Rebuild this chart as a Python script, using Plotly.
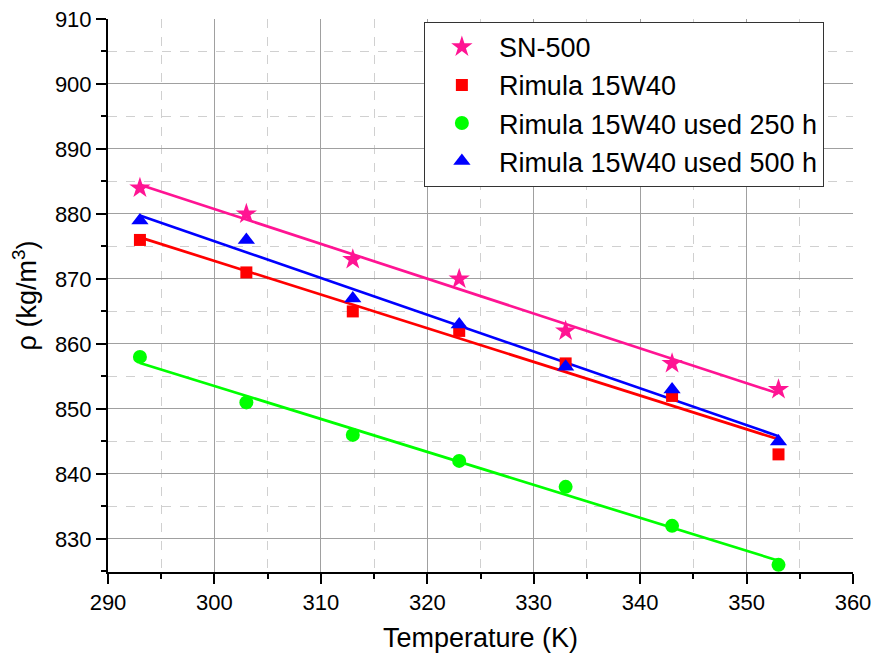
import numpy as np
import plotly.graph_objects as go

temperature = [293, 303, 313, 323, 333, 343, 353]
sn500 = [884, 880, 873, 870, 862, 857, 853]
rimula = [876, 871, 865, 862, 857, 852, 843]
used250 = [858, 851, 846, 842, 838, 832, 826]
used500 = [879, 876, 867, 863, 856.5, 853, 845]

series = [
    ("SN-500", sn500, "star", "#FF1493", 16),
    ("Rimula 15W40", rimula, "square", "#FF0000", 12),
    ("Rimula 15W40 used 250 h", used250, "circle", "#00FF00", 14),
    ("Rimula 15W40 used 500 h", used500, "triangle-up", "#0000FF", 15),
]

fig = go.Figure()
t = np.array(temperature, dtype=float)
for name, vals, sym, col, sz in series:
    k, b = np.polyfit(t, np.array(vals, dtype=float), 1)
    xs = [t.min(), t.max()]
    fig.add_trace(go.Scatter(x=xs, y=[k * x + b for x in xs], mode="lines",
                             line=dict(color=col, width=2.7), showlegend=False,
                             hoverinfo="skip"))
for name, vals, sym, col, sz in series:
    fig.add_trace(go.Scatter(x=temperature, y=vals, mode="markers", name=name,
                             marker=dict(symbol=sym, color=col, size=sz)))

axis_common = dict(
    showline=True, linecolor="black", linewidth=2,
    ticks="outside", ticklen=10, tickwidth=2, tickcolor="black",
    showgrid=True, gridcolor="#a0a0a0", gridwidth=1,
    zeroline=False, mirror=False, automargin=False,
    tickfont=dict(family="Liberation Sans, Arial", size=22, color="black"),
)
minor_common = dict(dtick=5, ticks="outside", ticklen=5, tickwidth=2, tickcolor="black",
                    showgrid=True, gridcolor="#d0d0d0", griddash="dash", gridwidth=1)
fig.update_layout(
    width=876, height=658,
    margin=dict(l=108, r=23, t=19, b=86),
    paper_bgcolor="white", plot_bgcolor="white",
    font=dict(family="Liberation Sans, Arial", color="black"),
    xaxis=dict(range=[290, 360], dtick=10, tick0=290,
               title=dict(text="Temperature (K)", font=dict(size=27), standoff=14),
               minor=minor_common, **axis_common),
    yaxis=dict(range=[824.9, 910], dtick=10, tick0=830,
               title=dict(text="ρ (kg/m<sup>3</sup>)", font=dict(size=27), standoff=10),
               minor=minor_common, **axis_common),
    legend=dict(x=0.424, y=0.995, xanchor="left", yanchor="top",
                bgcolor="white", bordercolor="#333333", borderwidth=1,
                itemwidth=64,
                font=dict(size=27, family="Liberation Sans, Arial")),
)
fig.write_html("out.html", config={"displayModeBar": False},
               post_script="document.body.style.margin='0px';")
